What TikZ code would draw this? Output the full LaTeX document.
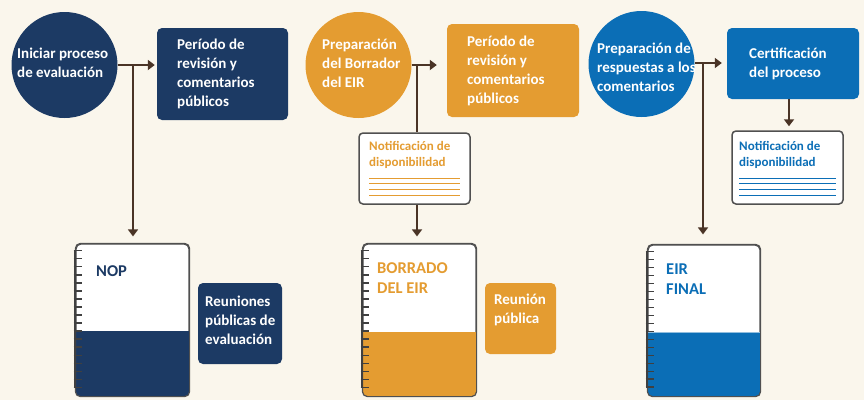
\documentclass[tikz,border=0pt]{standalone}
\usepackage{fontspec}
\setmainfont{Carlito}
\usetikzlibrary{arrows.meta,calc}
\definecolor{bg}{HTML}{FAF6EC}
\definecolor{navy}{HTML}{1C3A64}
\definecolor{orng}{HTML}{E49C31}
\definecolor{blu}{HTML}{0B6EB6}
\definecolor{brn}{HTML}{4A3426}
\definecolor{gry}{HTML}{505050}
\begin{document}
\begin{tikzpicture}[x=1pt,y=-1pt,
  circ/.style={circle,fill=#1,minimum size=106pt,inner sep=0pt},
  box/.style={rectangle,rounded corners=5pt,fill=#1,inner sep=0pt},
  txt/.style={text=white,font=\fontsize{15}{19}\selectfont\bfseries,align=left,inner sep=0pt,anchor=west},
  ntxt/.style={text=#1,font=\fontsize{13}{16}\selectfont\bfseries,align=left,inner sep=0pt,anchor=west},
  btxt/.style={text=#1,font=\fontsize{16.5}{20}\selectfont\bfseries,align=left,inner sep=0pt,anchor=west},
  nbox/.style={rectangle,rounded corners=4pt,draw=gry,line width=1.5pt,fill=white,inner sep=0pt},
  nb/.style={rectangle,rounded corners=5pt,draw=gry,line width=1.2pt,fill=white,inner sep=0pt,minimum width=113pt,minimum height=152pt},
  ln/.style={draw=brn,line width=2pt},
  arr/.style={draw=brn,line width=2pt,-{Triangle[length=7pt,width=10pt]}},
  spir/.style={draw=black!75,line width=2.2pt},
  tick/.style={draw=black!75,line width=1.4pt},
  ruled/.style={draw=#1,line width=1pt}
]
\useasboundingbox (0,0) rectangle (864,400);
\fill[bg] (0,0) rectangle (864,400);

% ---------------- Panel 1 ----------------
\node[circ=navy] (c1) at (64.5,65) {};
\node[txt] (c1t) at (17,62.5) {Iniciar proceso\\de evaluación};
\node[box=navy,minimum width=131pt,minimum height=92pt] (b1) at (222.5,74) {};
\node[txt] (b1t) at (177,74) {Período de\\revisión y\\comentarios\\públicos};
\node[nb] (nb1) at (132.5,320) {};
\begin{scope}
  \clip[rounded corners=5pt] (nb1.south west) rectangle (nb1.north east);
  \fill[navy] (76,331) rectangle (189,396);
\end{scope}
\draw[gry,line width=1.2pt,rounded corners=5pt] (nb1.south west) rectangle (nb1.north east);
\draw[spir] (75,250) -- (75,388);
\foreach \k in {0,...,17} \draw[tick] (73.5,250.7+8.04*\k) -- (82,250.7+8.04*\k);
\node[btxt=navy] (nb1t) at (96,271) {NOP};
\node[box=navy,minimum width=84pt,minimum height=81pt] (r1) at (240,323.5) {};
\node[txt] (r1t) at (205,320.5) {Reuniones\\públicas de\\evaluación};

\coordinate (j1) at (133,65);
\draw[arr,shorten >=2pt] (c1.east) -- (c1.east -| b1.west);
\draw[arr,shorten >=7pt] (j1) -- (j1 |- nb1.north);

% ---------------- Panel 2 ----------------
\node[circ=orng] (c2) at (358.5,65) {};
\node[txt] (c2t) at (322,63.5) {Preparación\\del Borrador\\del EIR};
\node[box=orng,minimum width=132pt,minimum height=93pt] (b2) at (513,70.5) {};
\node[txt] (b2t) at (467,70.5) {Período de\\revisión y\\comentarios\\públicos};
\node[nbox,minimum width=111pt,minimum height=71pt] (n2) at (414.5,168.5) {};
\node[ntxt=orng] (n2t) at (369,155) {Notificación de\\disponibilidad};
\foreach \yy in {178,183.7,189.3,195} \draw[ruled=orng] (369,\yy) -- (460,\yy);
\node[nb] (nb2) at (419.5,320) {};
\begin{scope}
  \clip[rounded corners=5pt] (nb2.south west) rectangle (nb2.north east);
  \fill[orng] (363,332) rectangle (476,396);
\end{scope}
\draw[gry,line width=1.2pt,rounded corners=5pt] (nb2.south west) rectangle (nb2.north east);
\draw[spir] (362,250) -- (362,388);
\foreach \k in {0,...,17} \draw[tick] (360.5,250.7+8.04*\k) -- (369,250.7+8.04*\k);
\node[btxt=orng] (nb2t) at (377,278) {BORRADO\\DEL EIR};
\node[box=orng,minimum width=71pt,minimum height=71pt] (r2) at (520.5,318.5) {};
\node[txt] (r2t) at (494,309.5) {Reunión\\pública};

\coordinate (j2) at (417,65);
\draw[arr,shorten >=10pt] (c2.east) -- (c2.east -| b2.west);
\draw[ln] (j2) -- (j2 |- n2.north);
\draw[arr,shorten >=7pt] (j2 |- n2.south) -- (j2 |- nb2.north);

% ---------------- Panel 3 ----------------
\node[circ=blu] (c3) at (641.5,64) {};
\node[txt] (c3t) at (597,67) {Preparación de\\respuestas a los\\comentarios};
\node[box=blu,minimum width=132pt,minimum height=71pt] (b3) at (793,63.5) {};
\node[txt] (b3t) at (749,63.5) {Certificación\\del proceso};
\node[nbox,minimum width=111pt,minimum height=73pt] (n3) at (787.5,167.5) {};
\node[ntxt=blu] (n3t) at (739,155) {Notificación de\\disponibilidad};
\foreach \yy in {178,183.7,189.3,195} \draw[ruled=blu] (739,\yy) -- (836,\yy);
\node[nb,minimum width=112pt,minimum height=151pt] (nb3) at (704,320.5) {};
\begin{scope}
  \clip[rounded corners=5pt] (nb3.south west) rectangle (nb3.north east);
  \fill[blu] (648,332) rectangle (760,396);
  \draw[blu!45,line width=1pt] (648,332) -- (760,332);
\end{scope}
\draw[gry,line width=1.2pt,rounded corners=5pt] (nb3.south west) rectangle (nb3.north east);
\draw[spir] (647,251) -- (647,388);
\foreach \k in {0,...,17} \draw[tick] (645.5,251.5+7.98*\k) -- (654,251.5+7.98*\k);
\node[btxt=blu] (nb3t) at (666,279) {EIR\\FINAL};

\coordinate (j3) at (703,63);
\draw[arr,shorten >=5pt] (c3.east |- j3) -- (j3 -| b3.west);
\draw[arr,shorten >=10pt] (j3) -- (j3 |- nb3.north);
\coordinate (k3) at (789,99);
\draw[arr,shorten >=4pt] (k3 |- b3.south) -- (k3 |- n3.north);
\end{tikzpicture}
\end{document}
